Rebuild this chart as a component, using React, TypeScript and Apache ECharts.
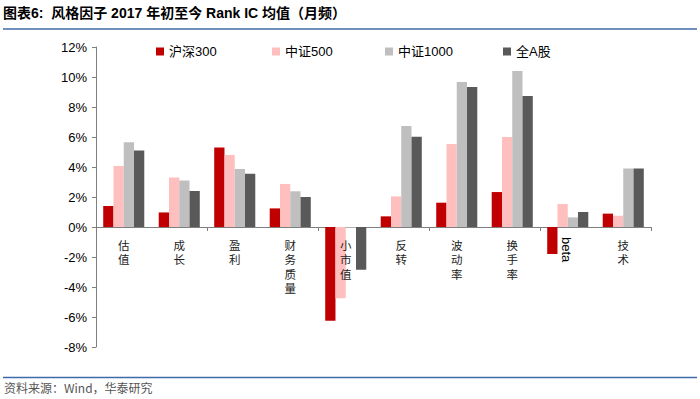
import React, { useEffect, useRef } from "react";
import * as echarts from "echarts";

const categories = ["估值", "成长", "盈利", "财务质量", "小市值", "反转", "波动率", "换手率", "beta", "技术"];
const seriesNames = ["沪深300", "中证500", "中证1000", "全A股"];
const hs300 = [1.4, 0.97, 5.3, 1.24, -6.25, 0.71, 1.62, 2.33, -1.8, 0.89];
const zz500 = [4.07, 3.3, 4.8, 2.87, -4.75, 2.04, 5.53, 6.0, 1.53, 0.75];
const zz1000 = [5.65, 3.1, 3.87, 2.38, -0.05, 6.73, 9.67, 10.4, 0.64, 3.9];
const allA = [5.1, 2.4, 3.55, 2.0, -2.85, 6.02, 9.33, 8.73, 1.0, 3.9];
const colors = ["#C00000", "#FFBFBF", "#BFBFBF", "#595959"];
const yTicks = { min: -8, max: 12, interval: 2 };
const titleText = "图表6:  风格因子 2017 年初至今 Rank IC 均值（月频）";
const sourceText = "资料来源：Wind，华泰研究";
const legendLefts = [156, 272, 385, 503];

export default function App() {
  const ref = useRef<HTMLDivElement>(null);
  useEffect(() => {
    if (!ref.current) return;
    const chart = echarts.init(ref.current, undefined, { renderer: "svg" });
    const values = [hs300, zz500, zz1000, allA];
    const font = "Arial, 'Liberation Sans', 'Noto Sans CJK SC', sans-serif";
    const option: any = {
      animation: false,
      backgroundColor: "#ffffff",
      textStyle: { fontFamily: font },
      grid: { left: 96, right: 49, top: 47, bottom: 52, containLabel: false, outerBoundsMode: "none" },
      legend: seriesNames.map((name, i) => ({
        left: legendLefts[i],
        top: 45,
        padding: 0,
        itemWidth: 8,
        itemHeight: 8,
        icon: "rect",
        data: [name],
        textStyle: { fontSize: 13, color: "#000", fontFamily: font },
      })),
      xAxis: {
        type: "category",
        data: categories,
        axisLine: { onZero: true, lineStyle: { color: "#7f7f7f", width: 1 } },
        axisTick: { show: true, length: 4, lineStyle: { color: "#7f7f7f" } },
        axisLabel: { show: false },
        splitLine: { show: false },
      },
      yAxis: {
        type: "value",
        min: yTicks.min,
        max: yTicks.max,
        interval: yTicks.interval,
        axisLine: { show: true, lineStyle: { color: "#7f7f7f", width: 1 } },
        axisTick: { show: true, length: 4, inside: false, lineStyle: { color: "#7f7f7f" } },
        splitLine: { show: false },
        axisLabel: {
          fontSize: 13,
          color: "#000",
          margin: 9,
          formatter: (v: number) => `${v}%`,
        },
      },
      series: seriesNames.map((name, i) => ({
        name,
        type: "bar",
        data: values[i],
        barGap: "0%",
        barCategoryGap: "26%",
        itemStyle: { color: colors[i] },
      })),
    };
    chart.setOption(option);
    const zeroY = chart.convertToPixel({ yAxisIndex: 0 }, 0) as number;
    const labelGraphics: any[] = [];
    categories.forEach((c) => {
      const px = chart.convertToPixel({ xAxisIndex: 0 }, c) as number;
      if (c === "beta") {
        labelGraphics.push({
          type: "text",
          x: px - 1,
          y: zeroY + 10,
          z: 100,
          rotation: -Math.PI / 2,
          style: {
            text: c,
            fontSize: 13,
            fill: "#000",
            align: "left",
            verticalAlign: "middle",
            fontFamily: "Arial, 'Liberation Sans', sans-serif",
          },
        });
        return;
      }
      c.split("").forEach((ch, k) => {
        labelGraphics.push({
          type: "text",
          x: px,
          y: zeroY + 12 + k * 14.5,
          z: 100,
          style: {
            text: ch,
            fontSize: 11.5,
            fill: "#222",
            align: "center",
            verticalAlign: "top",
            fontFamily: "'Noto Sans CJK SC', sans-serif",
          },
        });
      });
    });
    chart.setOption({
      graphic: [
        {
          type: "text",
          left: 3,
          top: 6,
          style: {
            text: titleText,
            fontSize: 14,
            fontWeight: "bold",
            fill: "#000",
            fontFamily: "Arial, 'Noto Sans CJK SC', sans-serif",
          },
        },
        {
          type: "line",
          shape: { x1: 3, y1: 29, x2: 697, y2: 29 },
          style: { stroke: "#3f6aa8", lineWidth: 1.5 },
        },
        {
          type: "line",
          shape: { x1: 3, y1: 377.5, x2: 697, y2: 377.5 },
          style: { stroke: "#3f6aa8", lineWidth: 1.5 },
        },
        {
          type: "text",
          left: 4,
          top: 381,
          style: {
            text: sourceText,
            fontSize: 12,
            fill: "#555",
            fontFamily: "'Noto Sans CJK SC', Arial, sans-serif",
          },
        },
        ...labelGraphics,
      ],
    });
    return () => chart.dispose();
  }, []);
  return <div ref={ref} style={{ width: 700, height: 399, position: "absolute", left: 0, top: 0 }} />;
}
